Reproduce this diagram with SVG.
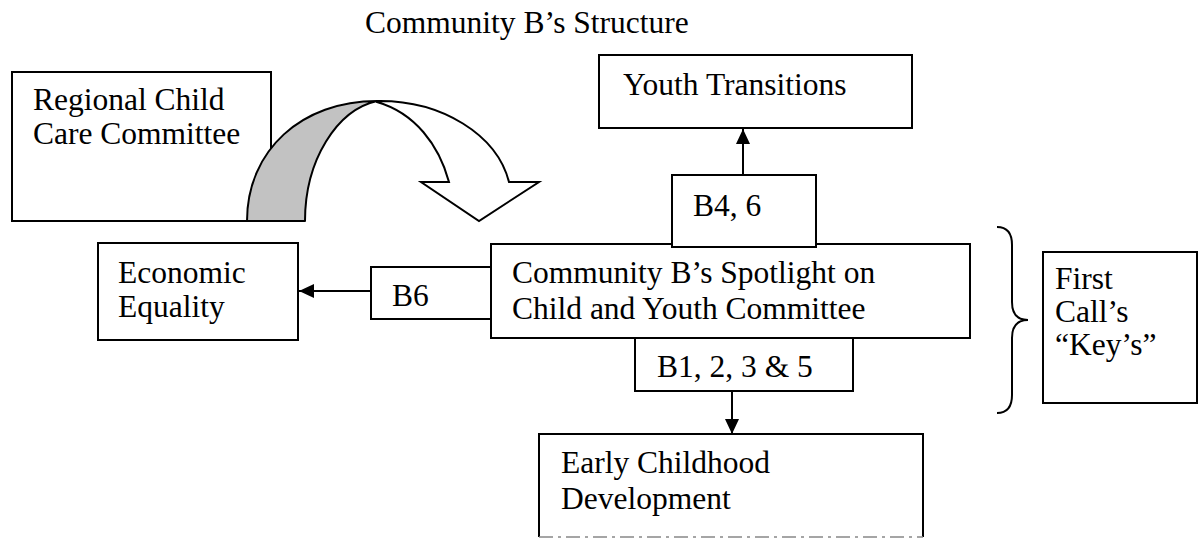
<svg xmlns="http://www.w3.org/2000/svg" width="1202" height="546" viewBox="0 0 1202 546">
<defs>
<style>
.box{fill:#fff;stroke:#000;stroke-width:2}
.t{font-family:"Liberation Serif","Times New Roman",serif;font-size:31.5px;fill:#000}
.ln{stroke:#000;stroke-width:2;fill:none}
</style>
<marker id="ah" viewBox="0 0 15 14" refX="15" refY="7" markerWidth="15" markerHeight="14" orient="auto" markerUnits="userSpaceOnUse"><path d="M0,0 L15,7 L0,14 Z" fill="#000"/></marker>
</defs>
<rect width="1202" height="546" fill="#fff"/>
<text class="t" x="365" y="33">Community B’s Structure</text>

<g id="regional">
<rect class="box" x="12" y="72" width="259" height="149"/>
<text class="t" x="33" y="110">Regional Child</text>
<text class="t" x="33" y="144">Care Committee</text>
</g>

<g id="curved-arrow">
<path d="M247,221 C247,150 302,101 377,101 C337,110 305,160 305,221 Z" fill="#c2c2c2" stroke="#000" stroke-width="2" stroke-linejoin="round"/>
<path d="M377,101 C442,100 497,135 509,182 L539,182 L479,221 L421,182 L449,182 C439,145 415,113 377,102 Z" fill="#fff" stroke="#000" stroke-width="2" stroke-linejoin="miter"/>
</g>

<g id="youth">
<rect class="box" x="599" y="55" width="313" height="73"/>
<text class="t" x="623" y="95">Youth Transitions</text>
</g>

<g id="economic">
<rect class="box" x="98" y="243" width="200" height="97"/>
<text class="t" x="118" y="283">Economic</text>
<text class="t" x="118" y="317">Equality</text>
</g>

<g id="b6">
<rect class="box" x="371" y="267" width="120" height="52"/>
<text class="t" x="392" y="306">B6</text>
</g>

<g id="main">
<rect class="box" x="491" y="244" width="479" height="94"/>
<text class="t" x="512" y="283">Community B’s Spotlight on</text>
<text class="t" x="512" y="319">Child and Youth Committee</text>
</g>

<g id="b46">
<rect class="box" x="672" y="175" width="144" height="72"/>
<text class="t" x="693" y="216">B4, 6</text>
</g>

<g id="b1235">
<rect class="box" x="635" y="338" width="218" height="53"/>
<text class="t" x="657" y="377">B1, 2, 3 &amp; 5</text>
</g>

<g id="early">
<path class="ln" d="M539,537 L539,434 L923,434 L923,537"/>
<path d="M539,537 L923,537" stroke="#888" stroke-width="1.5" stroke-dasharray="14 5 3 5"/>
<text class="t" x="561" y="473">Early Childhood</text>
<text class="t" x="561" y="509">Development</text>
</g>

<g id="first-call">
<path class="ln" d="M997,227 Q1012,227 1012,245 L1012,302 Q1012,320 1028,320 Q1012,320 1012,338 L1012,395 Q1012,413 997,413"/>
<rect class="box" x="1043" y="252" width="154" height="151"/>
<text class="t" x="1055" y="289">First</text>
<text class="t" x="1055" y="322">Call’s</text>
<text class="t" x="1055" y="355">“Key’s”</text>
</g>

<g id="connectors">
<line class="ln" x1="743" y1="175" x2="743" y2="129" marker-end="url(#ah)"/>
<line class="ln" x1="371" y1="291" x2="299" y2="291" marker-end="url(#ah)"/>
<line class="ln" x1="732" y1="391" x2="732" y2="434" marker-end="url(#ah)"/>
</g>
</svg>
